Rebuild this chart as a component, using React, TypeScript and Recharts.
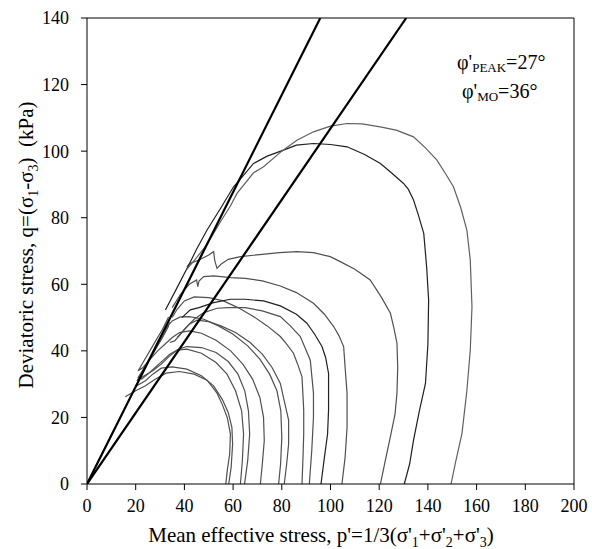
import React from 'react';
import { LineChart, Line, XAxis, YAxis, ReferenceLine, Customized } from 'recharts';

const xTicks = [0, 20, 40, 60, 80, 100, 120, 140, 160, 180, 200];
const yTicks = [0, 20, 40, 60, 80, 100, 120, 140];

const lineMO = [[0, 0], [95.8, 140]];
const linePeak = [[0, 0], [131.1, 140]];

const c57 = [[57,0],[57.6,4],[58.6,9],[58.9,15],[57.6,20],[55.5,24],[53.4,27.3],[49.3,31.2],[44,33],[38,33.8],[32.5,33.3],[28,31.5],[24,29.5],[20,28],[15.7,26.2]];
const c58 = [[58.2,0],[59.2,5],[59.8,12],[59.5,17],[58,21.5],[55.5,25.5],[52,29.5],[47,32.5],[41,34.5],[35,35.2],[30.5,34.8],[27,33],[24,31],[21.5,30],[19.8,29.2]];
const c63 = [[63,0],[63.8,7],[64.3,15],[63.5,22],[61,28],[57.5,33],[53,36.5],[47,39.3],[41,40.5],[37,40.2],[34,39],[31,37],[28,35],[25,33],[22.5,31.5],[21,32],[24,35.5],[28,40.5],[32,45.5],[34,48.5]];
const c65 = [[64.7,0],[66,7],[66.8,15],[66.3,22],[64.8,28],[62,33],[58,36.8],[53,39.5],[47,41],[41,41.3],[37.5,40.5],[34,38.5],[30.5,36],[27,34],[23.5,32.5],[20.5,31],[23,34],[27,39],[31,44],[33.5,47.5]];
const c71 = [[71.2,0],[72,6],[72.8,13],[72.5,20],[71,26],[68,31.5],[64,36],[59,40],[53,43.2],[47,45.3],[42,46],[38,45.5],[35,44],[32,42],[29,40],[26,37.5],[23,35],[21,34],[23,36.5],[27,41.5],[31,46.5],[33.5,50.2]];
const c79 = [[78.7,0],[79.5,6],[80,14],[79.6,22],[78,28],[75,33],[71,37.5],[66,41.5],[60,45],[54,47.5],[48,49.5],[42,50.3],[38.3,50.2],[35,49],[32.5,47],[30.5,44.5]];
const c81 = [[81,0],[82,6],[82.8,12],[82.8,19.2],[81,25],[79.4,30.2],[76,35],[72,39],[67,42.5],[61,45.5],[55,47.5],[50,48.8],[45.2,49.2],[42,48],[39,45.5],[36,43],[34,42.5]];
const c88 = [[88.3,0],[88.7,8],[89,15],[89,22.2],[88.3,32.2],[86.5,36],[84.8,39.3],[82,42],[79.4,44.3],[74,47.5],[68,50.5],[62,53],[56,55],[50,56],[44,56.2],[40,55],[37,52.5],[35,50]];
const c91 = [[91.3,0],[92.3,10],[93,20],[93,27.3],[91.7,37.2],[89.5,41],[87.6,44.3],[83.5,47.5],[79.4,50.3],[72,52],[65,53],[58,53],[53.4,52.8],[48,51.5],[44,49.5],[40,46.5],[37,44]];
const c96 = [[96.1,0],[97.5,8],[98.8,15],[99.2,22.2],[99.2,33.2],[98,38],[96.5,41.3],[93.5,45],[90.3,48.3],[86,51],[79.4,53.5],[72.5,55],[65,55.5],[58.9,55.5],[52,54.5],[46,53],[42.4,52.3],[39,50]];
const c105 = [[104.7,0],[106,8],[106.8,17],[106.8,27.3],[106,35],[105.4,41.3],[103.5,44.5],[101.3,47.3],[97.5,51],[93,54.3],[86,57.5],[79.4,59.5],[72,61],[65,61.8],[58.9,62],[52,62.5],[47.9,62.3],[46,61],[45.5,59.3],[45,61.3],[42,60],[38.4,57],[35,53]];
const c120 = [[120.5,0],[122.5,7],[124.6,14.2],[126.5,21],[127.3,27.3],[127.6,35],[127.3,42.3],[126,47],[124.6,51.3],[121,56],[116.3,61.3],[110,64.5],[104,66.8],[99.9,68.3],[93,69.5],[86.2,69.8],[79,69.5],[72,69],[63,68.3],[58,67.5],[55,66],[53.4,64.8],[52.5,67],[52,69.8],[50,68.8],[46,67.3],[42.4,66.3],[41,65.3]];
const c130 = [[130.3,0],[132.5,6],[134.1,13.2],[136.5,22],[139,30.2],[140,42],[140.3,55.3],[139.5,65],[138.3,75.3],[136,81],[134.1,85.3],[132,88.5],[130,90.3],[125,93.5],[120.5,96.3],[114,99],[106.8,101.3],[100,102],[93,102.3],[86,101.8],[80.7,100.3],[74,98.5],[68.4,96.3],[64,92.5],[60.2,89.3],[55,83],[49.3,76.3],[45,70.5],[41.8,65.8],[37,59],[32.2,52.3]];
const c150 = [[149.5,0],[151.5,7],[154,15.2],[156,28],[157.4,40.2],[158.1,53.2],[157.4,67.3],[156,76.3],[153.5,83],[150.5,89.3],[147,93.5],[143.7,97.3],[139,101],[134.1,104.3],[127,106.3],[120.4,107.3],[113,108.2],[106.8,108.3],[100,107.5],[93,105.8],[86.2,103.3],[80,100],[72.5,95.3],[68.4,93.5],[61.6,87.3],[58.9,83.5],[55,79],[49.3,72],[45,68],[41,64.5]];

const toPts = (arr: number[][]) => arr.map(([p, q]) => ({ p, q }));

const paths = [
  { d: c57, c: '#505050' }, { d: c58, c: '#505050' }, { d: c63, c: '#505050' }, { d: c65, c: '#505050' },
  { d: c71, c: '#505050' }, { d: c79, c: '#505050' }, { d: c81, c: '#505050' }, { d: c88, c: '#505050' },
  { d: c91, c: '#505050' }, { d: c96, c: '#202020' }, { d: c105, c: '#505050' }, { d: c120, c: '#505050' },
  { d: c130, c: '#202020' }, { d: c150, c: '#606060' },
];

const serif = "'Times New Roman', Tinos, 'Liberation Serif', 'Nimbus Roman', 'DejaVu Serif', serif";

const Texts = () => (
  <g style={{ fontFamily: serif }} fill="#000">
    <text x={457} y={69} fontSize={20} style={{ fontFamily: serif }}>
      φ'<tspan fontSize={13} dy={3}>PEAK</tspan><tspan dy={-3}>=27°</tspan>
    </text>
    <text x={462} y={98} fontSize={20} style={{ fontFamily: serif }}>
      φ'<tspan fontSize={13} dy={3}>MO</tspan><tspan dy={-3}>=36°</tspan>
    </text>
    <text x={321} y={542} fontSize={21} textAnchor="middle" style={{ fontFamily: serif }}>
      Mean effective stress, p'=1/3(σ'<tspan fontSize={14} dy={5}>1</tspan><tspan dy={-5}>+σ'</tspan><tspan fontSize={14} dy={5}>2</tspan><tspan dy={-5}>+σ'</tspan><tspan fontSize={14} dy={5}>3</tspan><tspan dy={-5}>)</tspan>
    </text>
    <text x={0} y={0} fontSize={21} textAnchor="middle" transform="translate(33,245) rotate(-90)" style={{ whiteSpace: 'pre', fontFamily: serif }}>
      Deviatoric stress, q=(σ<tspan fontSize={14} dy={5}>1</tspan><tspan dy={-5}>-σ</tspan><tspan fontSize={14} dy={5}>3</tspan><tspan dy={-5}>)  (kPa)</tspan>
    </text>
  </g>
);

export default function App() {
  const tickStyle = { fill: '#000', fontSize: 18, fontFamily: serif, style: { fontFamily: serif } };
  return (
    <div style={{ position: 'fixed', left: 0, top: 0, width: 592, height: 549, background: '#fff', fontFamily: serif }}>
      <LineChart width={592} height={549} margin={{ top: 18, right: 18, left: 0, bottom: 0 }} style={{ fontFamily: serif }}>
        <XAxis type="number" dataKey="p" domain={[0, 200]} ticks={xTicks} tickSize={6} tickMargin={9}
          axisLine={{ stroke: '#000' }} tickLine={{ stroke: '#000' }} tick={tickStyle} height={65} allowDataOverflow />
        <YAxis type="number" domain={[0, 140]} ticks={yTicks} tickSize={6} tickMargin={12} width={87}
          axisLine={{ stroke: '#000' }} tickLine={{ stroke: '#000' }} tick={tickStyle} allowDataOverflow />
        <ReferenceLine y={140} stroke="#000" strokeWidth={1} />
        <ReferenceLine x={200} stroke="#000" strokeWidth={1} />
        {paths.map((s, i) => (
          <Line key={i} data={toPts(s.d)} dataKey="q" type="linear" stroke={s.c} strokeWidth={1.2}
            dot={false} activeDot={false} isAnimationActive={false} />
        ))}
        <Line data={toPts(lineMO)} dataKey="q" type="linear" stroke="#000" strokeWidth={2.2} dot={false} activeDot={false} isAnimationActive={false} />
        <Line data={toPts(linePeak)} dataKey="q" type="linear" stroke="#000" strokeWidth={2.2} dot={false} activeDot={false} isAnimationActive={false} />
        <Customized component={Texts} />
      </LineChart>
    </div>
  );
}
